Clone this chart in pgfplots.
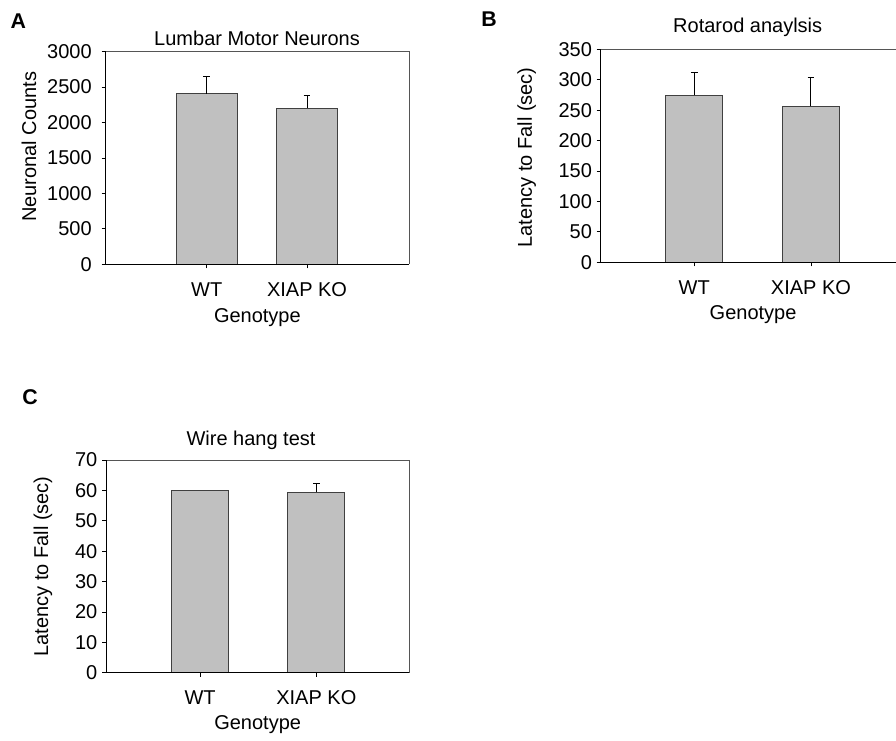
\documentclass[border=0pt]{standalone}
\usepackage{pgfplots}
\pgfplotsset{compat=1.18}
\usepackage{fontspec}
\setmainfont{Liberation Sans}
\definecolor{barfill}{HTML}{C0C0C0}
\definecolor{baredge}{HTML}{404040}
\definecolor{frametop}{HTML}{555555}
\pgfplotsset{
 panel/.style={
  scale only axis, axis line style={draw=none},
  ymin=0, xtick={0,1}, xticklabels={WT, XIAP KO},
  tick align=outside, xtick pos=bottom, ytick pos=left,
  major tick length=3pt, tick style={black, line width=0.6pt},
  minor tick num=0,
  /pgf/number format/assume math mode=true, /pgf/number format/1000 sep={},
  ticklabel style={font=\fontsize{15}{17}\selectfont},
  xticklabel style={yshift=-7pt},
  every axis y label/.style={rotate=90, anchor=center, font=\fontsize{15}{17}\selectfont},
  every axis x label/.style={anchor=center, font=\fontsize{15}{17}\selectfont},
  every axis title/.style={anchor=center, font=\fontsize{15}{17}\selectfont},
  ybar, bar shift=0pt, clip=false,
 },
 bars/.style={fill=barfill, draw=baredge, line width=0.75pt},
 errs/.style={fill=barfill, draw=baredge, line width=0.75pt,
   error bars/.cd, y dir=plus, y explicit, error mark=|,
   error bar style={black, line width=0.75pt},
   error mark options={black, mark size=2.5pt, line width=0.75pt}},
}
\newcommand{\frameit}{%
  \draw[frametop, line width=0.75pt] (rel axis cs:0,1) -- (rel axis cs:1,1) -- (rel axis cs:1,0);
  \draw[black, line width=0.75pt] (rel axis cs:0,1) -- (rel axis cs:0,0) -- (rel axis cs:1,0);}
\begin{document}
\begin{tikzpicture}
\clip (0,0) rectangle (672pt,-555pt);
\path[use as bounding box] (0,0) rectangle (672pt,-555pt);
% Panel A
\begin{axis}[panel, at={(79.28pt,-198.2pt)}, anchor=south west,
  width=227.5pt, height=159.45pt,
  xmin=-1.007, xmax=2.017, ymax=3000, ytick={0,500,...,3000},
  yticklabel style={xshift=-4pt},
  bar width=0.61,
  title={Lumbar Motor Neurons}, title style={at={(rel axis cs:0.499,1.064)}},
  xlabel={Genotype}, xlabel style={at={(rel axis cs:0.5,-0.25)}},
  ylabel={Neuronal Counts}, ylabel style={at={(rel axis cs:-0.253,0.552)}}]
\addplot[errs] coordinates {(0,2406) +- (0,250) (1,2205) +- (0,173)};
\frameit
\end{axis}
% Panel B
\begin{axis}[panel, at={(450.5pt,-196.7pt)}, anchor=south west,
  width=223.7pt, height=159.75pt,
  xmin=-0.802, xmax=1.754, ymax=350, ytick={0,50,...,350},
  bar width=0.49,
  title={Rotarod anaylsis}, title style={at={(rel axis cs:0.493,1.105)}},
  xlabel={Genotype}, xlabel style={at={(rel axis cs:0.511,-0.245)}},
  ylabel={Latency to Fall (sec)}, ylabel style={at={(rel axis cs:-0.248,0.492)}}]
\addplot[errs] coordinates {(0,274.4) +- (0,37.8) (1,256.3) +- (0,47.7)};
\frameit
\end{axis}
% Panel C
\begin{axis}[panel, at={(79.5pt,-504.5pt)}, anchor=south west,
  width=227.5pt, height=159.5pt,
  xmin=-0.81, xmax=1.80, ymax=70, ytick={0,10,...,70},
  bar width=0.49,
  title={Wire hang test}, title style={at={(rel axis cs:0.478,1.094)}},
  xlabel={Genotype}, xlabel style={at={(rel axis cs:0.5,-0.245)}},
  ylabel={Latency to Fall (sec)}, ylabel style={at={(rel axis cs:-0.208,0.5)}}]
\addplot[bars] coordinates {(0,60.0)};
\addplot[errs] coordinates {(1,59.4) +- (0,2.9)};
\frameit
\end{axis}
\node[font=\fontsize{16}{18}\selectfont\bfseries] at (13.8pt,-15.5pt) {A};
\node[font=\fontsize{16}{18}\selectfont\bfseries] at (366.8pt,-14.3pt) {B};
\node[font=\fontsize{16}{18}\selectfont\bfseries] at (22.5pt,-297.8pt) {C};
\end{tikzpicture}
\end{document}
